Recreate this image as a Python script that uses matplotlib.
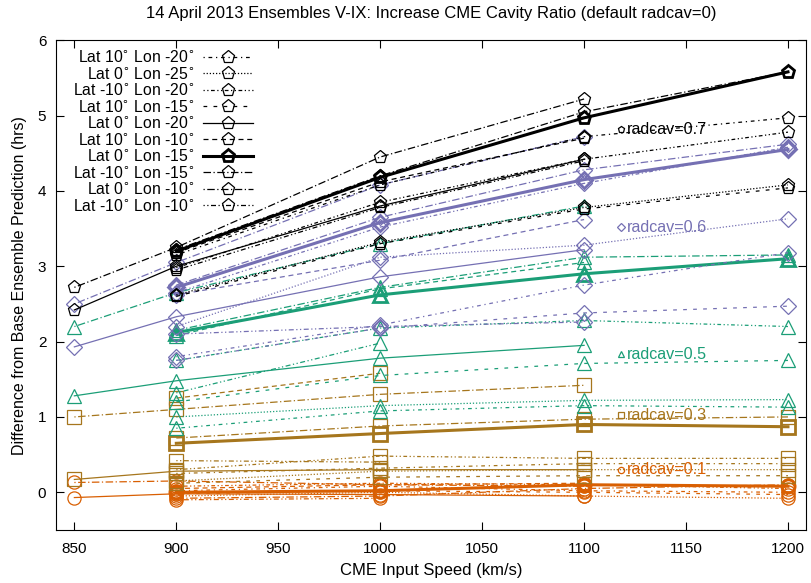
import numpy as np
import matplotlib
matplotlib.use('Agg')
import matplotlib.pyplot as plt

plt.rcParams['font.family'] = ['Liberation Sans', 'DejaVu Sans']

nan = np.nan
speeds = [850, 900, 1000, 1100, 1200]

# ensemble members, in legend order
members = ['Lat 10$^{\\circ}$ Lon -20$^{\\circ}$', 'Lat 0$^{\\circ}$ Lon -25$^{\\circ}$',
           'Lat -10$^{\\circ}$ Lon -20$^{\\circ}$', 'Lat 10$^{\\circ}$ Lon -15$^{\\circ}$',
           'Lat 0$^{\\circ}$ Lon -20$^{\\circ}$', 'Lat 10$^{\\circ}$ Lon -10$^{\\circ}$',
           'Lat 0$^{\\circ}$ Lon -15$^{\\circ}$', 'Lat -10$^{\\circ}$ Lon -15$^{\\circ}$',
           'Lat 0$^{\\circ}$ Lon -10$^{\\circ}$', 'Lat -10$^{\\circ}$ Lon -10$^{\\circ}$']

# difference from base prediction (hrs) per radcav value, one row per member
radcav01 = [[nan, 0.02, 0.08, 0.02, 0.00],
            [nan, -0.05, 0.00, -0.05, -0.08],
            [nan, 0.08, 0.12, 0.10, 0.05],
            [nan, -0.02, 0.02, 0.00, -0.03],
            [-0.07, -0.02, -0.03, -0.05, nan],
            [nan, 0.05, 0.10, 0.12, nan],
            [nan, 0.00, 0.02, 0.10, 0.08],
            [nan, -0.08, -0.05, 0.05, 0.10],
            [0.13, 0.15, 0.10, 0.08, nan],
            [nan, -0.10, -0.08, nan, nan]]

radcav03 = [[nan, 0.25, 0.32, 0.38, 0.38],
            [nan, 0.15, 0.28, 0.30, 0.30],
            [nan, 0.30, 0.48, 0.45, 0.45],
            [nan, 0.12, 0.20, 0.22, 0.22],
            [0.17, 0.28, 0.30, 0.30, nan],
            [nan, 1.25, 1.58, nan, nan],
            [nan, 0.65, 0.78, 0.90, 0.87],
            [nan, 0.72, 0.88, 0.97, 1.00],
            [1.00, 1.10, 1.30, 1.42, nan],
            [nan, 0.42, 0.40, nan, nan]]

radcav05 = [[nan, 0.85, 1.08, 1.15, 1.13],
            [nan, 1.00, 1.15, 1.22, 1.23],
            [nan, 1.75, 2.18, 2.28, 2.20],
            [nan, 1.20, 1.55, 1.71, 1.75],
            [1.28, 1.48, 1.78, 1.95, nan],
            [nan, 2.08, 2.70, 3.05, nan],
            [nan, 2.12, 2.62, 2.90, 3.10],
            [nan, 2.15, 2.72, 3.12, 3.15],
            [2.20, 2.65, 3.30, 3.80, nan],
            [nan, 1.32, 1.98, nan, nan]]

radcav06 = [[nan, 1.80, 2.22, 2.75, 3.18],
            [nan, 2.20, 3.12, 3.28, 3.63],
            [nan, 2.65, 3.52, 4.10, 4.58],
            [nan, 1.75, 2.18, 2.38, 2.47],
            [1.93, 2.33, 2.86, 3.22, nan],
            [nan, 2.62, 3.08, 3.62, nan],
            [nan, 2.72, 3.58, 4.15, 4.55],
            [nan, 2.75, 3.65, 4.28, 4.62],
            [2.50, 3.05, 4.08, 4.72, nan],
            [nan, 2.10, 2.20, 2.26, nan]]

radcav07 = [[nan, 3.15, 4.08, 4.72, 4.97],
            [nan, 2.62, 3.32, 3.78, 4.08],
            [nan, 2.98, 3.85, 4.42, 4.78],
            [nan, 2.60, 3.30, 3.76, 4.04],
            [2.42, 3.00, 3.80, 4.42, nan],
            [nan, 3.18, 4.12, 4.70, nan],
            [nan, 3.20, 4.18, 4.97, 5.58],
            [nan, 3.22, 4.20, 5.05, 5.58],
            [2.72, 3.25, 4.45, 5.22, nan],
            [nan, 2.95, 3.78, 4.40, nan]]

groups = [('radcav=0.1', radcav01, '#d95f02', 'o', 0.30),
          ('radcav=0.3', radcav03, '#a6761d', 's', 1.02),
          ('radcav=0.5', radcav05, '#1b9e77', '^', 1.83),
          ('radcav=0.6', radcav06, '#7570b3', 'D', 3.52),
          ('radcav=0.7', radcav07, '#000000', 'p', 4.82)]

styles = [(0, (1, 3, 3, 3)), (0, (1, 1.5)), (0, (1, 2, 1, 2, 3, 2)), (0, (3, 5)), '-',
          (0, (4, 3)), '-', (0, (6, 2, 1, 2)), (0, (1, 2, 6, 2)), (0, (1, 2, 1, 2, 4, 2))]

fig, ax = plt.subplots(figsize=(8.12, 5.83), dpi=100)
fig.subplots_adjust(left=0.069, right=0.993, top=0.931, bottom=0.091)

for name, data, color, mk, ylab in groups:
    for i, row in enumerate(data):
        y = np.array(row)
        ok = ~np.isnan(y)
        x = np.array(speeds)[ok]
        thick = (i == 6)
        ms = 9.5 if mk != 'D' else 8
        ax.plot(x, y[ok], color=color, ls=styles[i], lw=2.2 if thick else 0.9,
                marker=mk, ms=ms, mfc='none', mec=color, mew=2.0 if thick else 0.9)
    ax.plot([1118], [ylab], marker=mk, ms=4.5, mfc='none', mec=color, mew=0.9, color=color)
    ax.text(1121, ylab, name, color=color, fontsize=11.6, va='center', ha='left')

# legend drawn in black, pentagon markers
handles = []
for i, m in enumerate(members):
    thick = (i == 6)
    h, = ax.plot([], [], color='black', ls=styles[i], lw=2.2 if thick else 0.9,
                 marker='p', ms=9.5, mfc='none', mec='black', mew=2.0 if thick else 0.9)
    handles.append(h)
ax.legend(handles, members, loc='upper left', bbox_to_anchor=(0.004, 1.01), frameon=False,
          markerfirst=False, fontsize=11.3, labelspacing=0.03, handlelength=3.2,
          handletextpad=0.5, numpoints=1)

ax.set_xlim(841, 1209)
ax.set_ylim(-0.5, 6)
ax.set_xticks([850, 900, 950, 1000, 1050, 1100, 1150, 1200])
ax.set_yticks([0, 1, 2, 3, 4, 5, 6])
ax.tick_params(direction='in', top=True, right=True, length=6, labelsize=11)
ax.tick_params(axis='x', pad=9)
ax.tick_params(axis='y', pad=7)
ax.set_xlabel('CME Input Speed (km/s)', fontsize=12, labelpad=5)
ax.set_ylabel('Difference from Base Ensemble Prediction (hrs)', fontsize=11.5, labelpad=8)
ax.set_title('14 April 2013 Ensembles V-IX: Increase CME Cavity Ratio (default radcav=0)',
             fontsize=12, pad=16)

fig.savefig('out.png', dpi=100)
